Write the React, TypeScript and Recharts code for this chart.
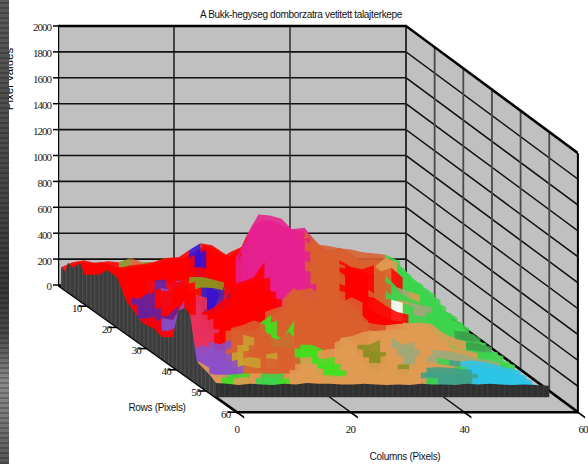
import { ComposedChart, XAxis, YAxis, Area, ReferenceDot } from 'recharts';

const title = 'A Bukk-hegyseg domborzatra vetitett talajterkepe';

// pixel value ticks, row and column ticks of the 3D box
const valueTicks = [0, 200, 400, 600, 800, 1000, 1200, 1400, 1600, 1800, 2000];
const rowTicks = [10, 20, 30, 40, 50, 60];
const columnTicks = [0, 20, 40, 60];

// surface is sampled every 2 columns, every 2 rows
const columns = [0, 2, 4, 6, 8, 10, 12, 14, 16, 18, 20, 22, 24, 26, 28, 30, 32, 34, 36, 38, 40, 42, 44, 46, 48, 50, 52, 54, 56, 58.5];
const surfaceRows = [1, 3, 5, 7, 9, 11, 13, 15, 17, 19, 21, 23, 25, 27, 29, 31, 33, 35, 37, 39, 41, 43, 45, 47, 49, 51];

const row01 = [154, 193, 208, 185, 200, 193, 224, 193, 193, 224, 224, 224, 193, 200, 230, 240, 260, 280, 300, 320, 330, 340, 330, 320, 300, 290, 270, 260, 250, 200];
const row03 = [196, 227, 219, 227, 196, 165, 196, 204, 227, 250, 258, 242, 219, 227, 300, 340, 380, 420, 440, 460, 470, 410, 335, 310, 310, 235, 250, 240, 250, 160];
const row05 = [197, 251, 235, 235, 212, 235, 243, 259, 290, 297, 259, 259, 282, 274, 330, 380, 420, 450, 470, 480, 470, 410, 325, 365, 310, 235, 220, 250, 240, 150];
const row07 = [230, 245, 245, 215, 230, 245, 260, 276, 307, 323, 369, 423, 384, 307, 384, 440, 520, 550, 560, 520, 480, 390, 375, 375, 300, 240, 240, 280, 200, 130];
const row09 = [225, 262, 280, 285, 280, 295, 305, 340, 355, 415, 470, 455, 395, 340, 420, 480, 520, 560, 580, 590, 480, 395, 430, 390, 316, 280, 260, 230, 200, 150];
const row11 = [257, 280, 272, 295, 280, 295, 311, 327, 357, 411, 450, 388, 311, 450, 643, 682, 666, 620, 589, 527, 450, 435, 435, 357, 319, 357, 357, 280, 203, 125];
const row13 = [300, 300, 310, 320, 300, 300, 300, 310, 347, 350, 330, 340, 400, 600, 757, 750, 725, 633, 630, 548, 460, 500, 455, 370, 347, 425, 385, 293, 216, 139];
const row15 = [285, 316, 285, 301, 270, 270, 270, 285, 309, 301, 270, 363, 517, 687, 733, 710, 656, 594, 610, 502, 479, 455, 417, 378, 347, 378, 301, 224, 180, 131];
const row17 = [385, 385, 350, 310, 316, 320, 300, 340, 340, 320, 300, 486, 640, 702, 715, 690, 625, 625, 560, 500, 470, 420, 400, 430, 350, 260, 230, 200, 160, 108];
const row19 = [388, 210, 195, 257, 288, 272, 311, 334, 288, 257, 311, 580, 674, 697, 658, 612, 581, 566, 520, 489, 458, 427, 388, 350, 311, 234, 195, 157, 118, 90];
const row21 = [385, 247, 230, 300, 300, 320, 300, 324, 320, 300, 500, 656, 656, 650, 640, 580, 530, 510, 540, 480, 460, 440, 420, 300, 230, 210, 190, 170, 150, 90];
const row23 = [224, 224, 185, 200, 224, 262, 301, 278, 224, 378, 401, 432, 556, 571, 525, 494, 479, 455, 509, 448, 401, 340, 278, 262, 239, 200, 170, 139, 108, 85];
const row25 = [140, 150, 165, 170, 250, 300, 216, 216, 409, 400, 420, 448, 470, 450, 430, 400, 420, 410, 420, 380, 330, 310, 250, 200, 180, 170, 165, 150, 130, 77];
const row27 = [134, 134, 188, 172, 327, 327, 211, 188, 404, 442, 442, 404, 388, 342, 404, 419, 357, 404, 388, 327, 249, 211, 172, 157, 134, 110, 95, 95, 80, 60];
const row29 = [110, 130, 120, 150, 230, 260, 300, 370, 380, 420, 400, 380, 360, 452, 400, 350, 370, 330, 380, 340, 260, 210, 180, 140, 130, 125, 125, 120, 115, 65];
const row31 = [100, 85, 124, 278, 278, 278, 317, 355, 378, 355, 301, 332, 355, 394, 317, 355, 332, 394, 317, 224, 178, 139, 162, 193, 124, 100, 85, 85, 70, 60];
const row33 = [130, 130, 180, 260, 260, 280, 250, 260, 280, 247, 309, 347, 340, 300, 280, 290, 270, 300, 260, 240, 230, 240, 245, 250, 240, 170, 130, 100, 90, 62];
const row35 = [170, 220, 300, 290, 240, 230, 240, 262, 300, 262, 300, 316, 316, 316, 340, 262, 285, 316, 224, 208, 208, 231, 262, 262, 185, 108, 77, 70, 54, 58];
const row37 = [130, 200, 270, 260, 230, 250, 260, 250, 270, 220, 200, 335, 300, 270, 230, 197, 210, 243, 250, 259, 270, 250, 220, 180, 150, 120, 100, 80, 70, 60];
const row39 = [240, 300, 260, 200, 180, 216, 255, 232, 255, 216, 278, 178, 178, 139, 193, 232, 178, 178, 216, 232, 178, 200, 216, 139, 124, 100, 77, 62, 46, 50];
const row41 = [370, 170, 208, 170, 170, 208, 208, 200, 200, 190, 185, 170, 160, 175, 180, 185, 170, 150, 155, 190, 190, 170, 170, 160, 150, 130, 100, 90, 70, 55];
const row43 = [480, 180, 165, 150, 180, 190, 200, 170, 180, 160, 140, 150, 130, 150, 155, 150, 145, 150, 165, 160, 155, 155, 140, 125, 115, 120, 110, 90, 65, 40];
const row45 = [240, 143, 145, 140, 160, 180, 170, 170, 150, 120, 140, 125, 120, 130, 130, 135, 135, 130, 120, 125, 140, 140, 120, 110, 105, 110, 100, 85, 60, 35];
const row47 = [180, 130, 125, 125, 150, 130, 125, 130, 115, 110, 130, 120, 105, 115, 120, 125, 110, 115, 120, 115, 130, 135, 130, 120, 115, 105, 115, 100, 70, 30];
const row49 = [130, 110, 110, 115, 120, 120, 115, 120, 110, 100, 110, 105, 100, 105, 110, 100, 105, 110, 120, 125, 130, 125, 115, 120, 115, 120, 110, 95, 60, 25];
const row51 = [120, 125, 110, 125, 115, 125, 110, 115, 120, 110, 105, 110, 115, 105, 110, 120, 105, 115, 105, 120, 115, 120, 125, 115, 120, 110, 115, 100, 80, 30];
const surface = [row01, row03, row05, row07, row09, row11, row13, row15, row17, row19, row21, row23, row25, row27, row29, row31, row33, row35, row37, row39, row41, row43, row45, row47, row49, row51];

// one land cover letter per sample
const land = [
  'RRRRRVOVOORRRRRRRRRROOOOOOOOGG',
  'RRRRROVOORRRRRRRRRRRROOOOOOOGG',
  'RRRRRRRRRRRRRRRROOOOOOOOOOOGGG',
  'RRRRRRRRRRBRRRRRMMMMMOOOOOOOGG',
  'RRRRRRRRRBRRRRRMMMMMMMOOOOOGGG',
  'RRRRRRRRRBRRRMMMMMOOOOOOOAGGGG',
  'RRRRRRRRRRRRRMMMMMOOOOOOAAGGGG',
  'RRRRPPPVVVRRMMMMMMOOOOOOORGGGG',
  'RRRRDRRVVVRMMMMMMOOORRROGSAGGG',
  'RDDRPRRVBLRMMMMMMOOORROOGGGGGG',
  'RDDRRRRBBRMMMMMMOOORRROGASSGGG',
  'RDDRRRKBPRRRMMMMOOORROOWGSGGGG',
  'RRDDRKDDRRRRMMMMOORRRRRRGGGGGG',
  'RRPPRKDDRRRRMOOOOORRRRRAGGGGEG',
  'RRRKKRRRRRRROOOOOOORRROAAGGEEG',
  'RRRKKRRRRROOOOOOOOORRAAAGGGGGG',
  'RRRKKRRRRLOOOOOOOOOOAAAAAAAEEG',
  'RKKKKROOOLOOOOOOOOAAAAAAAGGGGG',
  'RKKKROOOOLLOOOOAAAAAAAAAAAAGGG',
  'RKKPPOYOOOOLLOAAVVASSAASSSSGGG',
  'RPPPOYOOOOLLAAAAVVASSASSSSSSGG',
  'PPPPYOOYOOALLAAAVAASASGTCCCCCG',
  'PPPPYYOOOAALLAAAAAVAAAAGCCCCCG',
  'APPPOOOOAAALLAAAAAAATTTTCCCCCG',
  'AALLAGGAAAAAAAAAAAATTTTTCCCCCG',
  'ALAAGGLAAAAAAAAAAAAGTTTCCCCCCC',
];
const landColors: Record<string, string> = {
  R: '#ff0000', M: '#e6208e', O: '#d9602e', A: '#e09a52', G: '#3cd44c', B: '#3a10d0',
  P: '#8c50c8', D: '#6a209a', L: '#40e020', K: '#e8305c', C: '#2ec4e8', T: '#3fa088',
  V: '#8e9020', S: '#a0a878', Y: '#c8a030', W: '#ffffff', E: '#3aa048',
};

// dark side walls of the surface
const frontRow = 53;
const frontValues = [110, 105, 95, 105, 100, 95, 105, 100, 110, 105, 105, 100, 100, 105, 100, 95, 100, 95, 105, 100, 100, 95, 105, 100, 105, 100, 95, 100, 95, 90];
const leftEdgeRows = [1, 1.3, 2.4, 3.4, 5, 7.4, 9, 11, 14, 16.4, 19.8, 23, 25, 28.5, 32, 35, 38.6, 40.3, 42.6, 44.3, 46.6, 51, 53];
const leftEdgeValues = [120, 160, 140, 230, 215, 290, 225, 260, 310, 385, 385, 250, 220, 170, 190, 170, 230, 460, 520, 495, 170, 140, 110];

const WIDTH = 588;
const HEIGHT = 464;
const LEFT = 58;
const PX_PER_COL = 5.8;
const PX_PER_VALUE = 0.1295;
const ZERO_Y = 285;
// oblique projection of the box, in axis units
const ROW_SHIFT_X = 2.98 / PX_PER_COL;
const ROW_SHIFT_Y = 2.12 / PX_PER_VALUE;
const px = (c: number, r: number) => c * (1 - 0.00033 * r) + r * ROW_SHIFT_X;
const pz = (r: number, z: number) => z - r * ROW_SHIFT_Y;
const point = (c: number, r: number, z: number) => ({ x: px(c, r), y: pz(r, z) });

const xDomain = [0, (WIDTH - LEFT) / PX_PER_COL];
const yDomain = [-(HEIGHT - ZERO_Y) / PX_PER_VALUE, ZERO_Y / PX_PER_VALUE];
const screenX = (x: number) => (x - LEFT) / PX_PER_COL;
const screenY = (y: number) => (ZERO_Y - y) / PX_PER_VALUE;

const SERIF = '"Liberation Serif", serif';
const SANS = '"Liberation Sans", Arial, sans-serif';
const GREY = '#c0c0c0';

// a straight box edge drawn as a thin filled band, so the surface can cover it
function edge(from: number[], to: number[], width: number, color = '#000') {
  const a = point(from[0], from[1], from[2]);
  const b = point(to[0], to[1], to[2]);
  if (Math.abs(a.x - b.x) < 0.01) {
    const half = width / 2 / PX_PER_COL;
    const band = [Math.min(a.y, b.y), Math.max(a.y, b.y)];
    return { color, data: [{ x: a.x - half, band }, { x: a.x + half, band }] };
  }
  const [l, r] = a.x < b.x ? [a, b] : [b, a];
  const slope = ((r.y - l.y) * PX_PER_VALUE) / ((r.x - l.x) * PX_PER_COL);
  const half = (width / 2 / PX_PER_VALUE) * Math.sqrt(1 + slope * slope);
  return {
    color,
    data: [
      { x: l.x, band: [l.y - half, l.y + half] },
      { x: r.x, band: [r.y - half, r.y + half] },
    ],
  };
}

const wallLines = [
  ...valueTicks.slice(1, -1).flatMap((v) => [edge([0, 0, v], [60, 0, v], 1.6, '#111'), edge([60, 0, v], [60, 60, v], 1.5, '#111')]),
  edge([20, 0, 0], [20, 0, 2000], 1.4, '#111'),
  edge([40, 0, 0], [40, 0, 2000], 1.4, '#222'),
  ...rowTicks.slice(0, -1).map((r) => edge([60, r, 0], [60, r, 2000], 1.8, '#4a4a4a')),
  edge([60, 0, 0], [60, 0, 2000], 1.8, '#222'),
  edge([0, 0, 0], [60, 0, 0], 1.6, '#111'),
  edge([20, 0, 0], [20, 60, 0], 1.4, '#111'),
  edge([40, 0, 0], [40, 60, 0], 1.4, '#111'),
  edge([60, 0, 0], [60, 60, 0], 2.6),
  edge([0, 0, 0], [0, 60, 0], 2.6),
  edge([0, 60, 0], [60, 60, 0], 2.6),
  edge([60, 60, 0], [60, 60, 2000], 2),
  edge([60, 0, 2000], [60, 60, 2000], 2.6),
  edge([0, 0, 2000], [60, 0, 2000], 2.6),
  edge([0, 0, 0], [0, 0, 2000], 2.4),
  ...rowTicks.map((r) => edge([-1.6, r, 0], [0, r, 0], 1.6)),
  ...columnTicks.map((c) => edge([c, 60, 0], [c, 62.5, 0], 1.6)),
];

const wallBack = [
  { x: px(0, 0), band: [pz(0, 0), pz(0, 2000)] },
  { x: px(60, 0), band: [pz(0, 0), pz(0, 2000)] },
];
const wallRight = [
  { x: px(60, 0), band: [pz(0, 0), pz(0, 2000)] },
  { x: px(60, 60), band: [pz(60, 0), pz(60, 2000)] },
];
const floor = [
  { x: px(0, 0), band: [pz(0, 0), pz(0, 0)] },
  { x: px(0, 60), band: [pz(60, 0), pz(0, 0)] },
  { x: px(60, 0), band: [pz(60, 0), pz(0, 0)] },
  { x: px(60, 60), band: [pz(60, 0), pz(60, 0)] },
];

// split one sampled row into runs of the same land cover
function rowRuns(r: number, values: number[], codes: string) {
  const runs: { code: string; data: { x: number; band: number[] }[] }[] = [];
  columns.forEach((c, i) => {
    const p = { x: px(c, r), band: [pz(r, 0), pz(r, values[i])] };
    const last = runs[runs.length - 1];
    if (last) last.data.push(p);
    if (i < columns.length - 1 && (!last || last.code !== codes[i])) {
      runs.push({ code: codes[i], data: [p] });
    }
  });
  return runs;
}

const surfaceRuns = surfaceRows.flatMap((r, i) => rowRuns(r, surface[i], land[i]).map((run, j) => ({ ...run, key: `${r}-${j}` })));
const frontWall = columns.map((c, i) => ({ x: px(c, frontRow), band: [pz(frontRow, 0), pz(frontRow, frontValues[i])] }));
const leftWall = leftEdgeRows.map((r, i) => ({ x: px(0, r), band: [pz(r, 0), pz(r, leftEdgeValues[i])] }));

const tickLabels = [
  ...rowTicks.map((r) => ({ text: String(r), x: px(0, r) - 1.9, y: pz(r, 0) - 12, font: SERIF, size: 11, spacing: -0.8 })),
  ...columnTicks.map((c) => ({ text: String(c), x: px(c, 60) + (c === 60 ? 0.9 : 0), y: pz(60, 0) - 130, font: SERIF, size: 11, spacing: -0.8 })),
];
const titles = [
  { text: title, x: screenX(301), y: screenY(14), font: SANS, size: 10, spacing: -0.33 },
  { text: 'Rows (Pixels)', x: screenX(157), y: screenY(407), font: SANS, size: 10, spacing: -0.3 },
  { text: 'Columns (Pixels)', x: screenX(405), y: screenY(456), font: SANS, size: 10, spacing: -0.3 },
];

export default function App() {
  return (
    <div style={{ position: 'absolute', left: 0, top: 0, width: WIDTH, height: HEIGHT, background: '#fff' }}>
      <ComposedChart width={WIDTH} height={HEIGHT} margin={{ top: 0, right: 0, bottom: 0, left: 0 }}>
        <defs>
          <pattern id="leftStripes" width="4.1" height="8" patternUnits="userSpaceOnUse">
            <rect width="4.1" height="8" fill="#3c3c3c" />
            <rect width="1" height="8" fill="#505050" />
          </pattern>
          <pattern id="frontStripes" width="5.6" height="8" patternUnits="userSpaceOnUse">
            <rect width="5.6" height="8" fill="#303030" />
            <rect width="0.8" height="8" fill="#3e3e3e" />
          </pattern>
        </defs>
        <XAxis type="number" dataKey="x" domain={xDomain} hide allowDataOverflow />
        <YAxis
          type="number"
          width={LEFT}
          domain={yDomain}
          allowDataOverflow
          ticks={valueTicks}
          interval={0}
          axisLine={false}
          tickLine={{ stroke: '#000', strokeWidth: 1.5 }}
          tickSize={5}
          tick={{ fontFamily: SERIF, fontSize: 11, fill: '#222', dy: 1.5, letterSpacing: -1 }}
          label={{
            value: 'Pixel Values',
            angle: -90,
            position: 'insideTopLeft',
            dx: 0,
            dy: 74,
            style: { fontFamily: SANS, fontSize: 11.5, fill: '#000', textAnchor: 'middle' },
          }}
        />
        <Area data={floor} dataKey="band" stroke="none" fill={GREY} fillOpacity={1} isAnimationActive={false} />
        <Area data={wallBack} dataKey="band" stroke="none" fill={GREY} fillOpacity={1} isAnimationActive={false} />
        <Area data={wallRight} dataKey="band" stroke="none" fill={GREY} fillOpacity={1} isAnimationActive={false} />
        {wallLines.map((s, i) => (
          <Area key={`wall-${i}`} data={s.data} dataKey="band" stroke="none" fill={s.color} fillOpacity={1} isAnimationActive={false} />
        ))}
        {surfaceRuns.map((run) => (
          <Area
            key={run.key}
            data={run.data}
            dataKey="band"
            fill={landColors[run.code]}
            fillOpacity={0.88}
            stroke="none"
            isAnimationActive={false}
          />
        ))}
        <Area data={leftWall} dataKey="band" fill="url(#leftStripes)" fillOpacity={1} stroke="none" isAnimationActive={false} />
        <Area data={frontWall} dataKey="band" fill="url(#frontStripes)" fillOpacity={1} stroke="none" isAnimationActive={false} />
        {[...tickLabels, ...titles].map((t) => (
          <ReferenceDot
            key={t.text}
            x={t.x}
            y={t.y}
            r={0}
            fill="none"
            stroke="none"
            ifOverflow="visible"
            label={{ value: t.text, position: 'center', fontFamily: t.font, fontSize: t.size, fill: '#111', letterSpacing: t.spacing }}
          />
        ))}
      </ComposedChart>
      <div
        style={{
          position: 'absolute',
          left: 0,
          top: 0,
          width: 9,
          height: HEIGHT,
          background:
            'repeating-linear-gradient(0deg, rgba(0,0,0,.22) 0 2px, transparent 2px 5px), linear-gradient(#5a5a5a 0%, #484848 40%, #383838 62%, #4a4a4a 72%, #8a8a8a 82%, #7a7a7a 90%, #555 100%)',
        }}
      />
    </div>
  );
}
